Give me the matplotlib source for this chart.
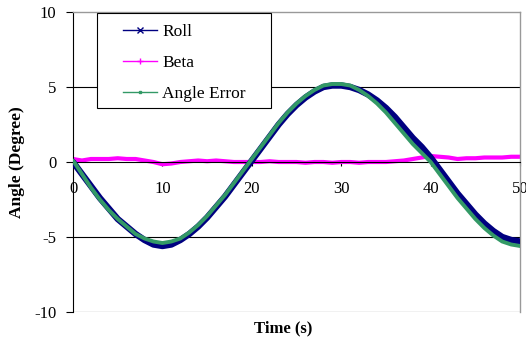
import matplotlib.pyplot as plt
from matplotlib.lines import Line2D
from matplotlib.patches import Rectangle

plt.rcParams["font.family"] = ["Liberation Serif", "DejaVu Serif"]
plt.rcParams["axes.unicode_minus"] = False

# samples every 1 s
time_s = list(range(0, 51))
roll = [0.0, -0.8, -1.6, -2.4, -3.1, -3.8, -4.3, -4.8, -5.2, -5.5,
        -5.6, -5.5, -5.2, -4.8, -4.3, -3.7, -3.0, -2.3, -1.5, -0.7,
        0.1, 0.9, 1.7, 2.5, 3.2, 3.8, 4.3, 4.7, 5.0, 5.1,
        5.1, 5.0, 4.8, 4.5, 4.1, 3.6, 3.0, 2.3, 1.6, 1.0,
        0.3, -0.5, -1.3, -2.1, -2.8, -3.5, -4.1, -4.6, -5.0, -5.2,
        -5.3]
beta = [0.2, 0.1, 0.2, 0.2, 0.2, 0.25, 0.2, 0.2, 0.1, 0.0,
        -0.15, -0.1, 0.0, 0.05, 0.1, 0.05, 0.1, 0.05, 0.0, 0.0,
        0.0, 0.0, 0.05, 0.0, 0.0, 0.0, -0.05, 0.0, 0.0, -0.05,
        0.0, 0.0, -0.05, 0.0, 0.0, 0.0, 0.05, 0.1, 0.2, 0.3,
        0.4, 0.35, 0.3, 0.2, 0.25, 0.25, 0.3, 0.3, 0.3, 0.35,
        0.35]
angle_error = [0.1, -0.8, -1.7, -2.5, -3.2, -3.8, -4.3, -4.8, -5.1, -5.3,
               -5.4, -5.3, -5.1, -4.7, -4.2, -3.6, -2.9, -2.2, -1.4, -0.6,
               0.2, 1.0, 1.8, 2.6, 3.3, 3.9, 4.4, 4.8, 5.1, 5.2,
               5.2, 5.1, 4.8, 4.4, 3.9, 3.3, 2.6, 1.9, 1.2, 0.6,
               0.0, -0.8, -1.6, -2.4, -3.1, -3.8, -4.4, -4.9, -5.3, -5.5,
               -5.6]

C_ROLL = "#000080"
C_BETA = "#ff00ff"
C_ERR = "#339966"

fig = plt.figure(figsize=(5.26, 3.49), dpi=100, facecolor="white")
ax = fig.add_axes([0.1388, 0.106, 0.85, 0.8596])

ax.plot(time_s, roll, color=C_ROLL, lw=4.6, zorder=3, solid_capstyle="round")
ax.plot(time_s, beta, color=C_BETA, lw=3.0, zorder=2, solid_capstyle="round")
ax.plot(time_s, angle_error, color=C_ERR, lw=2.8, zorder=4, solid_capstyle="round")

ax.set_xlim(0, 50)
ax.set_ylim(-10, 10)
ax.set_xticks([0, 10, 20, 30, 40, 50])
ax.set_yticks([-10, -5, 0, 5, 10])
for yv in (-10, -5, 5):
    ax.axhline(yv, color="black", lw=0.8, zorder=1)

ax.spines["bottom"].set_position(("data", 0))
ax.spines["bottom"].set_linewidth(0.8)
ax.spines["left"].set_linewidth(0.8)
ax.spines["top"].set_color("#999999")
ax.spines["right"].set_color("#999999")
ax.spines["top"].set_linewidth(1.0)
ax.spines["right"].set_linewidth(1.0)
ax.tick_params(axis="x", direction="out", length=3, width=0.8, pad=11, labelsize=12)
ax.tick_params(axis="y", direction="out", length=5, width=0.8, pad=7, labelsize=12)

ax.set_xlabel("Time (s)", fontsize=12, fontweight="bold")
ax.xaxis.set_label_coords(0.47, -0.027)
ax.set_ylabel("Angle (Degree)", fontsize=12.5, fontweight="bold")
ax.yaxis.set_label_coords(-0.108, 0.5)

# legend box
ax.add_patch(Rectangle((0.0537, 0.68), 0.39, 0.317, transform=ax.transAxes,
                       facecolor="white", edgecolor="black", lw=0.8, zorder=5))
handles = [
    Line2D([], [], color=C_ROLL, lw=1, marker="x", markersize=4),
    Line2D([], [], color=C_BETA, lw=1, marker="+", markersize=4),
    Line2D([], [], color=C_ERR, lw=1, marker="s", markersize=2),
]
leg = ax.legend(handles, ["Roll", "Beta", "Angle Error"], loc="upper left",
                bbox_to_anchor=(0.103, 0.972), frameon=False, fontsize=12.5,
                handlelength=2.0, handletextpad=0.3, labelspacing=0.86,
                borderaxespad=0, borderpad=0.2)
leg.set_zorder(6)

fig.savefig("out.png", dpi=100, facecolor="white")
